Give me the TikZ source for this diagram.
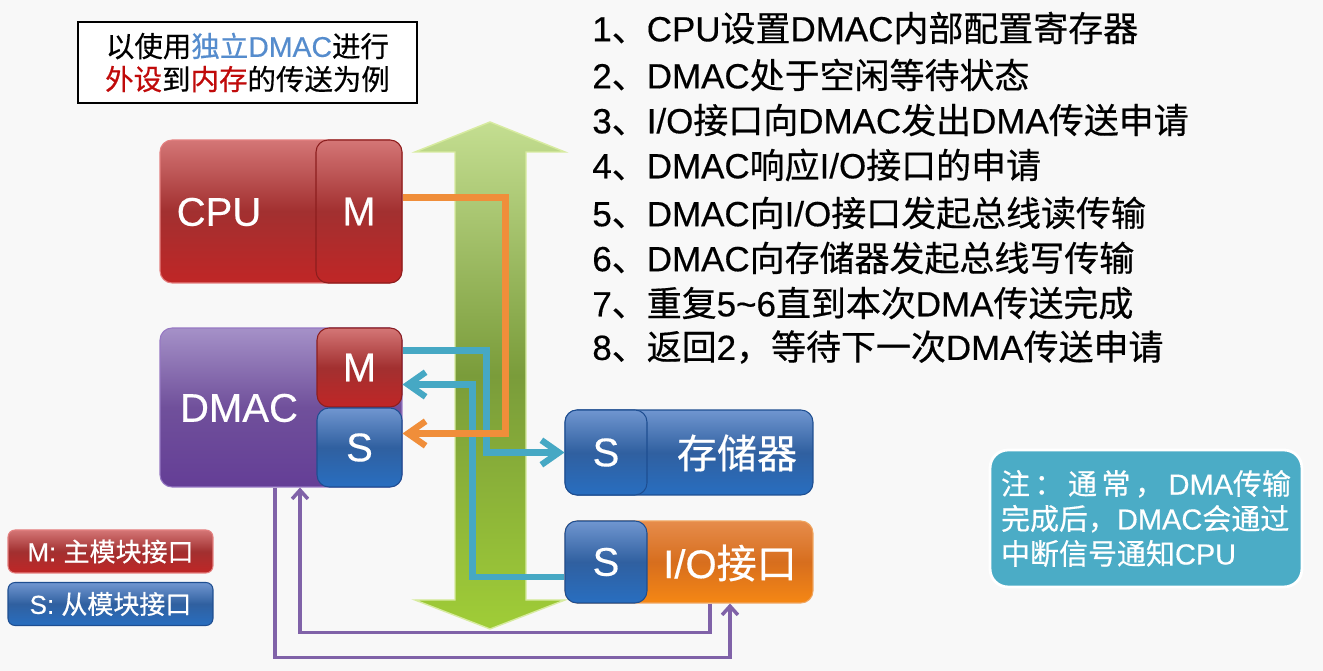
\documentclass[tikz,border=0pt]{standalone}
\usepackage{fontspec}
\setmainfont{Noto Sans CJK SC}[FakeBold=0.5]
\newfontfamily\lat{Liberation Sans}[FakeBold=0.4]
\usepackage{tikz}
\usetikzlibrary{arrows.meta,calc}
\definecolor{pagebg}{RGB}{248,248,248}
\definecolor{redtop}{RGB}{212,118,118}
\definecolor{redmid}{RGB}{162,48,48}
\definecolor{redbot}{RGB}{192,38,38}
\definecolor{redrim}{RGB}{228,128,128}
\definecolor{reddark}{RGB}{140,30,30}
\definecolor{bluetop}{RGB}{112,150,208}
\definecolor{bluemid}{RGB}{48,96,160}
\definecolor{bluebot}{RGB}{40,110,192}
\definecolor{bluerim}{RGB}{30,78,145}
\definecolor{purptop}{RGB}{165,145,200}
\definecolor{purpmid}{RGB}{112,80,155}
\definecolor{purpbot}{RGB}{100,62,150}
\definecolor{purprim}{RGB}{150,120,195}
\definecolor{orgtop}{RGB}{230,140,75}
\definecolor{orgmid}{RGB}{215,110,30}
\definecolor{orgbot}{RGB}{245,135,20}
\definecolor{orgrim}{RGB}{240,165,95}
\definecolor{grntop}{RGB}{196,222,145}
\definecolor{grnmid}{RGB}{122,156,58}
\definecolor{grnbot}{RGB}{160,205,55}
\definecolor{grnrim}{RGB}{215,235,160}
\definecolor{tealln}{RGB}{70,168,196}
\definecolor{orgln}{RGB}{240,142,58}
\definecolor{purpln}{RGB}{128,98,168}
\definecolor{notebg}{RGB}{75,172,198}
\definecolor{hlblue}{RGB}{85,140,205}
\definecolor{hlred}{RGB}{192,10,10}

\begin{document}
\begin{tikzpicture}[x=0.02cm,y=-0.02cm,
  blk/.style={rounded corners=0.24cm,line width=0.6pt,inner sep=0pt,text=white,
    font=\fontsize{22.8}{26}\selectfont},
  redblk/.style={blk,draw=redrim,top color=redtop,bottom color=redbot,middle color=redmid},
  redsub/.style={redblk,draw=reddark},
  blueblk/.style={blk,draw=bluerim,top color=bluetop,bottom color=bluebot,middle color=bluemid},
  purpblk/.style={blk,draw=purprim,top color=purptop,bottom color=purpbot,middle color=purpmid},
  orgblk/.style={blk,draw=orgrim,top color=orgtop,bottom color=orgbot,middle color=orgmid},
  blktxt/.style={text=white,font=\fontsize{22.8}{26}\selectfont,inner sep=0pt},
  itemtxt/.style={anchor=west,inner sep=0pt,font=\fontsize{19.9}{24}\selectfont},
  legend/.style={rounded corners=0.14cm,line width=0.6pt,minimum width=4.1cm,
    minimum height=0.86cm,text=white,font=\fontsize{14.8}{17}\selectfont},
  busline/.style={line width=3.6pt,-{Straight Barb[length=10pt,width=14pt]}},
  ackline/.style={purpln,line width=2pt,-{Straight Barb[length=5pt,width=9pt]}}]

  % page and fixed frame (1323 x 671 px)
  \fill[pagebg] (0,0) rectangle (1323,671);
  \useasboundingbox (0,0) rectangle (1323,671);

  % --- title box
  \node[draw=black,line width=1.4pt,fill=white,minimum width=6.78cm,minimum height=1.62cm,
        align=center,font=\fontsize{16.2}{18.8}\selectfont] (title) at (247.5,62.5)
    {以使用\textcolor{hlblue}{独立{\lat DMAC}}进行\\
     \textcolor{hlred}{外设}到\textcolor{hlred}{内存}的传送为例};

  % --- steps (right)
  \node[itemtxt] (s1) at (592,28)  {{\lat 1}、{\lat CPU}设置{\lat DMAC}内部配置寄存器};
  \node[itemtxt] (s2) at (592,75)  {{\lat 2}、{\lat DMAC}处于空闲等待状态};
  \node[itemtxt] (s3) at (592,120) {{\lat 3}、{\lat I/O}接口向{\lat DMAC}发出{\lat DMA}传送申请};
  \node[itemtxt] (s4) at (592,165) {{\lat 4}、{\lat DMAC}响应{\lat I/O}接口的申请};
  \node[itemtxt] (s5) at (592,213) {{\lat 5}、{\lat DMAC}向{\lat I/O}接口发起总线读传输};
  \node[itemtxt] (s6) at (592,258) {{\lat 6}、{\lat DMAC}向存储器发起总线写传输};
  \node[itemtxt] (s7) at (592,303) {{\lat 7}、重复{\lat 5\textasciitilde 6}直到本次{\lat DMA}传送完成};
  \node[itemtxt] (s8) at (592,347) {{\lat 8}、返回{\lat 2}，等待下一次{\lat DMA}传送申请};

  % --- system bus: vertical double arrow
  \shadedraw[top color=grntop,bottom color=grnbot,middle color=grnmid,draw=grnrim,line width=0.8pt]
    (490,122) -- (565,152) -- (526,152) -- (526,600) -- (565,600) -- (490,629)
    -- (415,600) -- (455,600) -- (455,152) -- (415,152) -- cycle;

  % --- CPU
  \node[redblk,minimum width=4.84cm,minimum height=2.86cm] (cpu) at (281,211.5) {};
  \node[blktxt] (cputxt) at (219,212) {\lat CPU};
  \node[redsub,minimum width=1.72cm,minimum height=2.86cm] (cpum) at (359,211.5) {\lat M};

  % --- DMAC
  \node[purpblk,minimum width=4.84cm,minimum height=3.18cm] (dmac) at (281,407.5) {};
  \node[blktxt] (dmactxt) at (239,408) {\lat DMAC};
  \node[redsub,minimum width=1.7cm,minimum height=1.58cm] (dmacm) at (359.5,367.5) {\lat M};
  \node[blueblk,minimum width=1.7cm,minimum height=1.58cm] (dmacs) at (359.5,447.5) {\lat S};

  % --- memory
  \node[blueblk,minimum width=4.96cm,minimum height=1.7cm] (mem) at (689,452.5) {};
  \node[blktxt] (memtxt) at (737,453) {存储器};
  \node[blueblk,minimum width=1.64cm,minimum height=1.7cm] (mems) at (606,452.5) {\lat S};

  % --- I/O interface
  \node[orgblk,minimum width=4.96cm,minimum height=1.64cm] (io) at (689,562) {};
  \node[blktxt] (iotxt) at (730,563) {{\lat I/O}接口};
  \node[blueblk,minimum width=1.64cm,minimum height=1.64cm] (ios) at (606,562) {\lat S};

  % --- bus transfers: DMAC master -> memory, I/O -> DMAC master, CPU master -> DMAC slave
  \draw[busline,tealln] ($(dmacm.east)+(0,-17)$) -| ($(mems.west)+(-78,0)$) -- (mems.west);
  \draw[busline,tealln] ($(ios.west)+(0,15)$) -| ($(dmacm.east)+(70,17)$) -- ($(dmacm.east)+(0,17)$);
  \draw[busline,orgln] ($(cpum.east)+(0,-14)$) -| ($(dmacs.east)+(103,-14)$) -- ($(dmacs.east)+(0,-14)$);

  % --- request / acknowledge between I/O and DMAC
  \draw[ackline] ($(io.south)+(21,0)$) -- ++(0,29) -| ($(dmac.south)+(19,0)$);
  \draw[ackline] ($(dmac.south)+(-6,0)$) -- ++(0,170) -| ($(io.south)+(41,0)$);

  % --- legend
  \node[legend,draw=redrim,top color=redtop,bottom color=redbot,middle color=redmid] (lgm)
    at (110.5,551.5) {{\lat M: }主模块接口};
  \node[legend,draw=bluerim,top color=bluetop,bottom color=bluebot,middle color=bluemid] (lgs)
    at (110.5,604) {{\lat S: }从模块接口};

  % --- note
  \node[draw=white,line width=1.6pt,fill=notebg,rounded corners=0.36cm,minimum width=6.24cm,
        minimum height=2.74cm,text width=5.8cm,align=left,text=white,
        font=\fontsize{16.5}{19.9}\selectfont] (note) at (1146,518.5)
    {\makebox[5.8cm][s]{注\hfill{}：\hfill{}通\hfill{}常\hfill{}，\hfill{}{\lat DMA}传输}\\
     完成后，{\lat DMAC}会通过\\
     中断信号通知{\lat CPU}};
\end{tikzpicture}
\end{document}
